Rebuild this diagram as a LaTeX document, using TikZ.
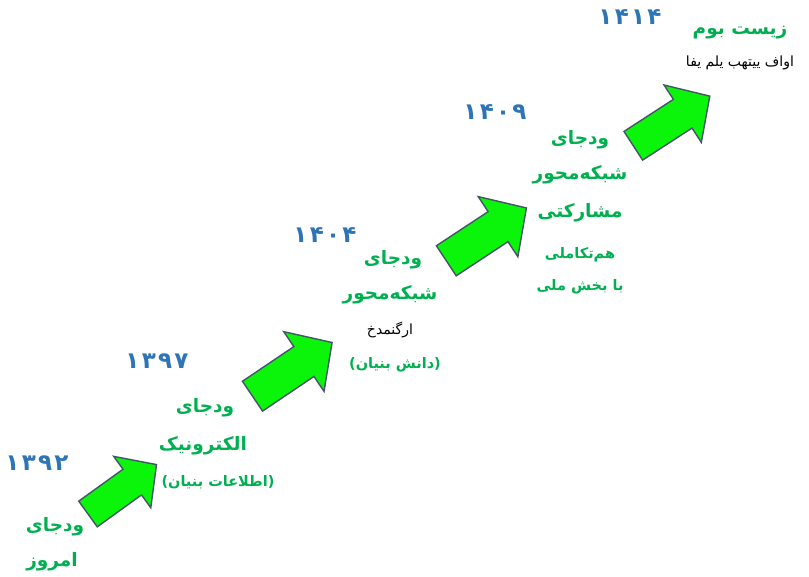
\documentclass[tikz,border=0pt]{standalone}
\usepackage{fontspec}
\TeXXeTstate=1
\newfontfamily\farsi[Script=Arabic]{DejaVu Sans}
\newfontfamily\adad[LetterSpace=10]{DejaVu Sans}
\definecolor{sabz}{RGB}{0,176,80}
\definecolor{abi}{RGB}{46,117,182}
\definecolor{felesh}{RGB}{10,245,10}
\definecolor{labe}{RGB}{68,84,106}
\newcommand\fa[1]{\beginR #1\endR}

\begin{document}
\begin{tikzpicture}[x=1pt,y=1pt,
		steparrow/.style={fill=felesh,draw=labe,line width=1.4pt,line join=miter},
		year/.style={text=abi,font=\adad\bfseries\fontsize{23}{26}\selectfont},
		title/.style={text=sabz,font=\farsi\bfseries\fontsize{18.5}{22}\selectfont},
		subtitle/.style={text=sabz,font=\farsi\bfseries\fontsize{14.5}{17}\selectfont},
		blacknote/.style={text=black,font=\farsi\fontsize{14}{16}\selectfont}]
		\useasboundingbox (0,0) rectangle (809,577);
		
		% the four steps
		\filldraw[steparrow,shift={(88,63)},rotate=35.8,scale=0.88] (0,-18) -- (62,-18) -- (62,-36) -- (96,0) -- (62,36) -- (62,18) -- (0,18) -- cycle;
		\filldraw[steparrow,shift={(252.5,180.8)},rotate=34] (0,-18) -- (62,-18) -- (62,-36) -- (96,0) -- (62,36) -- (62,18) -- (0,18) -- cycle;
		\filldraw[steparrow,shift={(446.3,316.2)},rotate=33.4] (0,-18) -- (62,-18) -- (62,-36) -- (96,0) -- (62,36) -- (62,18) -- (0,18) -- cycle;
		\filldraw[steparrow,shift={(633.3,431.2)},rotate=33,scale=0.95] (0,-18) -- (62,-18) -- (62,-36) -- (96,0) -- (62,36) -- (62,18) -- (0,18) -- cycle;
		
		% years
		\node[year] (y1392) at (37,114) {۱۳۹۲};
		\node[year] (y1397) at (157,216) {۱۳۹۷};
		\node[year] (y1404) at (325,342) {۱۴۰۴};
		\node[year] (y1409) at (495,465) {۱۴۰۹};
		\node[year] (y1414) at (630,560) {۱۴۱۴};
		
		% labels of each step
		\node[title] (emruzA) at (55,50) {\fa{ودجای}};
		\node[title] (emruzB) at (52,15) {\fa{امروز}};
		
		\node[title] (elecA) at (205,169) {\fa{ودجای}};
		\node[title] (elecB) at (203,131) {\fa{الکترونیک}};
		\node[subtitle] (elecC) at (218,95) {\fa{(اطلاعات بنیان)}};
		
		\node[title] (shabakeA) at (393,317) {\fa{ودجای}};
		\node[title] (shabakeB) at (390,282) {\fa{شبکه‌محور}};
		\node[blacknote] (shabakeC) at (390,247) {\fa{ارگنمدخ}};
		\node[subtitle] (shabakeD) at (395,212) {\fa{(دانش بنیان)}};
		
		\node[title] (moshA) at (580,437) {\fa{ودجای}};
		\node[title] (moshB) at (580,402) {\fa{شبکه‌محور}};
		\node[title] (moshC) at (580,364) {\fa{مشارکتی}};
		\node[subtitle] (moshD) at (580,322) {\fa{هم‌تکاملی}};
		\node[subtitle] (moshE) at (580,290) {\fa{با بخش ملی}};
		
		\node[title] (zistA) at (740,544) {\fa{زیست بوم}};
		\node[blacknote] (zistB) at (740,514) {\fa{اواف ییتهب یلم یفا}};
	\end{tikzpicture}
\end{document}
